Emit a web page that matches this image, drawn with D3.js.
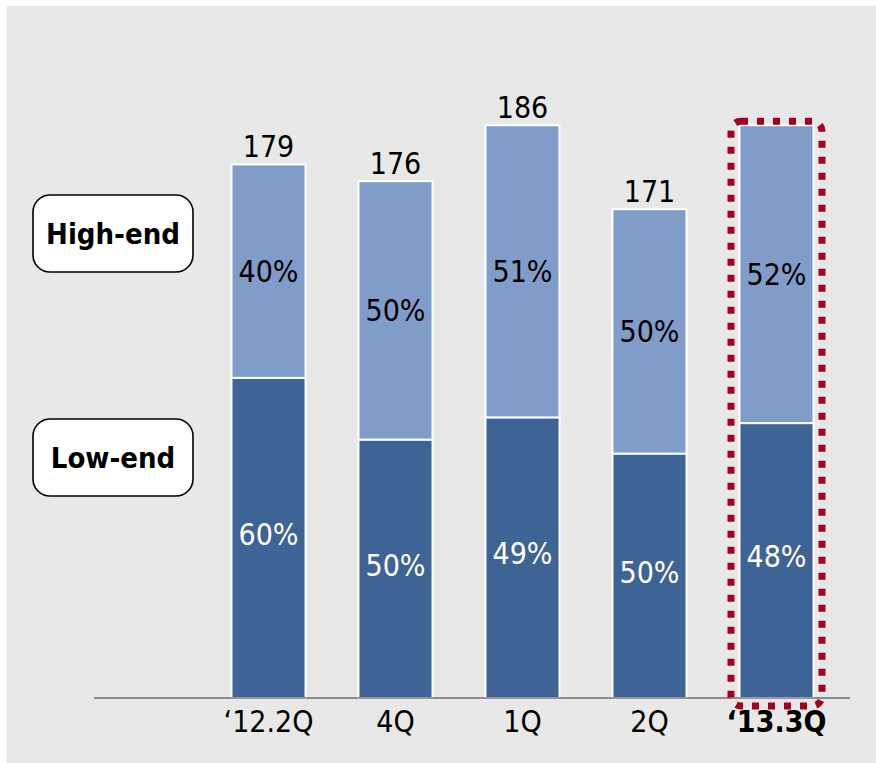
<!DOCTYPE html>
<html>
<head>
<meta charset="utf-8">
<script src="https://cdn.jsdelivr.net/npm/d3@7"></script>
<style>
  html, body { margin: 0; padding: 0; background: #ffffff; }
  svg { display: block; }
  text { font-family: "DejaVu Sans Condensed", "DejaVu Sans", sans-serif; font-stretch: condensed; }
</style>
</head>
<body>
<svg id="chart" width="876" height="763"></svg>
<script>
// Quarterly shipments split into high-end / low-end shares
const categories  = ["\u201812.2Q", "4Q", "1Q", "2Q", "\u201813.3Q"];
const totals      = [179, 176, 186, 171, 186];
const showTotal   = [true, true, true, true, false];
const highShare   = [40, 50, 51, 50, 52];
const lowShare    = [60, 50, 49, 50, 48];
const segmentNames = ["High-end", "Low-end"];
const highlighted = "\u201813.3Q";

const W = 876, H = 763;
const colors = { high: "#7f9dc8", low: "#3d6494", bg: "#e8e8e8", frame: "#a50021" };
const fontSize = 30;

const svg = d3.select("#chart");

// panel background
svg.append("rect").attr("x", 7).attr("y", 6).attr("width", W - 7).attr("height", H - 6)
  .attr("fill", colors.bg);

const baseY = 698;
const x = d3.scaleBand().domain(categories).range([205, 840]).paddingInner(0.417).paddingOuter(0.2085);
const y = d3.scaleLinear().domain([83.6, 190]).range([baseY, baseY - 106.4 * 5.593]);

const data = categories.map((c, i) => ({
  cat: c, total: totals[i], show: showTotal[i], high: highShare[i], low: lowShare[i]
}));

const bars = svg.append("g").selectAll("g").data(data).join("g");

// share scale inside each bar: 0% at baseline, 100% at bar top
const shareY = d => d3.scaleLinear().domain([0, 100]).range([baseY, y(d.total)]);

bars.append("rect")
  .attr("x", d => x(d.cat))
  .attr("width", x.bandwidth())
  .attr("y", d => shareY(d)(d.low))
  .attr("height", d => baseY - shareY(d)(d.low))
  .attr("fill", colors.low)
  .attr("stroke", "#ffffff").attr("stroke-width", 2);

bars.append("rect")
  .attr("x", d => x(d.cat))
  .attr("width", x.bandwidth())
  .attr("y", d => y(d.total))
  .attr("height", d => shareY(d)(d.low) - y(d.total))
  .attr("fill", colors.high)
  .attr("stroke", "#ffffff").attr("stroke-width", 2);

// totals above bars
bars.filter(d => d.show).append("text")
  .attr("x", d => x(d.cat) + x.bandwidth() / 2)
  .attr("y", d => y(d.total) - 7)
  .attr("text-anchor", "middle")
  .attr("font-size", fontSize).attr("fill", "#000")
  .text(d => d.total);

// share labels
bars.append("text")
  .attr("x", d => x(d.cat) + x.bandwidth() / 2)
  .attr("y", d => (y(d.total) + shareY(d)(d.low)) / 2)
  .attr("dy", "0.36em")
  .attr("text-anchor", "middle")
  .attr("font-size", fontSize).attr("fill", "#000")
  .text(d => d.high + "%");

bars.append("text")
  .attr("x", d => x(d.cat) + x.bandwidth() / 2)
  .attr("y", d => (baseY + shareY(d)(d.low)) / 2 - 4)
  .attr("dy", "0.36em")
  .attr("text-anchor", "middle")
  .attr("font-size", fontSize).attr("fill", "#fff")
  .text(d => d.low + "%");

// baseline
svg.append("line").attr("x1", 94).attr("x2", 850).attr("y1", baseY).attr("y2", baseY)
  .attr("stroke", "#333").attr("stroke-width", 1.2);

// category axis
const axis = svg.append("g").attr("transform", `translate(0,${baseY})`)
  .call(d3.axisBottom(x).tickSize(0).tickPadding(13));
axis.select(".domain").remove();
axis.selectAll("text")
  .attr("font-size", fontSize).attr("fill", "#000")
  .attr("dy", "0.71em")
  .attr("font-weight", d => d === highlighted ? "bold" : "normal")
  .style("font-family", "'DejaVu Sans Condensed', 'DejaVu Sans', sans-serif");

// dotted highlight frame
const hx = x(highlighted);
svg.append("rect")
  .attr("x", hx - 8.5).attr("y", y(totals[4]) - 4)
  .attr("width", x.bandwidth() + 17)
  .attr("height", baseY + 8 - (y(totals[4]) - 4))
  .attr("rx", 10).attr("ry", 10)
  .attr("fill", "none").attr("stroke", colors.frame)
  .attr("stroke-width", 7).attr("stroke-dasharray", "7 9");

// segment name boxes
const legendY = [195, 419];
segmentNames.forEach((name, i) => {
  const g = svg.append("g").attr("transform", `translate(33,${legendY[i]})`);
  g.append("rect").attr("width", 160).attr("height", 77).attr("rx", 17)
    .attr("fill", "#fff").attr("stroke", "#000").attr("stroke-width", 1.6);
  g.append("text").attr("x", 80).attr("y", 39).attr("dy", "0.36em")
    .attr("text-anchor", "middle").attr("font-size", 29).attr("font-weight", "bold")
    .attr("fill", "#000").text(name);
});
</script>
</body>
</html>
